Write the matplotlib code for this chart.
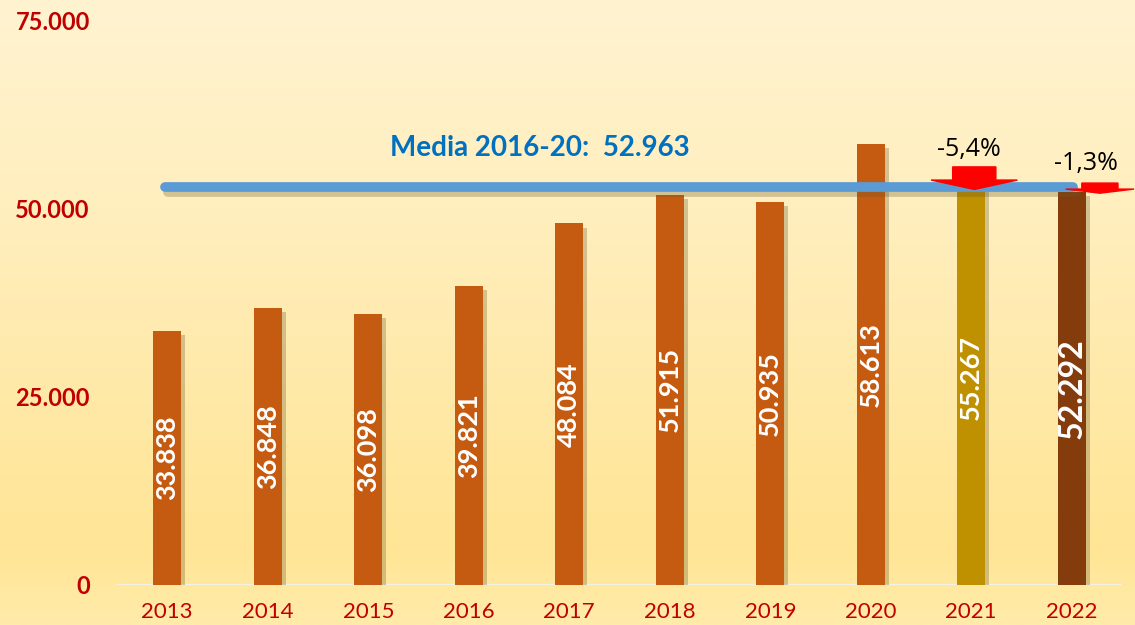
import numpy as np
import matplotlib
matplotlib.use("Agg")
import matplotlib.pyplot as plt
import matplotlib.patheffects as pe
from matplotlib.colors import LinearSegmentedColormap
from matplotlib.patches import Polygon

# data
years = ["2013", "2014", "2015", "2016", "2017", "2018", "2019", "2020", "2021", "2022"]
values = [33838, 36848, 36098, 39821, 48084, 51915, 50935, 58613, 55267, 52292]
value_labels = ["33.838", "36.848", "36.098", "39.821", "48.084", "51.915",
                "50.935", "58.613", "55.267", "52.292"]
mean_value = 52963
mean_label = "Media 2016-20:  52.963"
changes = ["-5,4%", "-1,3%"]
y_ticks = [0, 25000, 50000, 75000]
y_tick_labels = ["0", "25.000", "50.000", "75.000"]

bar_colors = ["#C55A11"] * 8 + ["#BF9000", "#843C0C"]
red = "#C00000"
FONT = ["Lato", "DejaVu Sans"]

fig = plt.figure(figsize=(11.35, 6.25), dpi=100)

# background gradient
bg = fig.add_axes([0, 0, 1, 1], zorder=-10)
cmap = LinearSegmentedColormap.from_list(
    "bg", [(0.0, "#FFF3D0"), (0.35, "#FFEEBD"), (0.88, "#FFE595"), (1.0, "#FFEBAA")])
grad = np.linspace(0, 1, 256).reshape(-1, 1)
bg.imshow(grad, aspect="auto", cmap=cmap, extent=[0, 1, 0, 1], origin="upper")
bg.set_axis_off()

ax = fig.add_axes([117 / 1135, 40 / 625, 1005 / 1135, 564 / 625])
ax.patch.set_alpha(0)
x = np.arange(len(years))

bars = ax.bar(x, values, width=0.28, color=bar_colors, zorder=3)
for b in bars:
    b.set_path_effects([pe.SimplePatchShadow(offset=(3, -3), shadow_rgbFace="#6b5a2a", alpha=0.3),
                        pe.Normal()])

for i, (v, lab) in enumerate(zip(values, value_labels)):
    ax.text(x[i], v / 2, lab, rotation=90, ha="center", va="center", color="white",
            fontsize=23 if i == len(years) - 1 else 19.5, fontweight="bold",
            family=FONT, zorder=5)

# baseline
ax.axhline(0, color="#F3F0E6", lw=1.5, zorder=2)

# mean line
ax.plot([-0.02, 9.01], [mean_value, mean_value], color="#5B9BD5", lw=7,
        solid_capstyle="round", zorder=4,
        path_effects=[pe.SimpleLineShadow(offset=(2, -4), alpha=0.3, shadow_color="#6b5a2a"),
                      pe.Normal()])
ax.text(3.71, 58100, mean_label, ha="center", va="center", color="#0070C0",
        fontsize=20, fontweight="bold", family=FONT, zorder=5)

# red down arrows
def down_arrow(xc, shaft_w, head_w, top, head_base, tip):
    pts = [(xc - shaft_w / 2, top), (xc + shaft_w / 2, top), (xc + shaft_w / 2, head_base),
           (xc + head_w / 2, head_base), (xc, tip), (xc - head_w / 2, head_base),
           (xc - shaft_w / 2, head_base)]
    ax.add_patch(Polygon(pts, closed=True, color="#FF0000", zorder=6, clip_on=False))

down_arrow(8.03, 0.43, 0.86, 55600, 53850, 52600)
down_arrow(9.28, 0.36, 0.68, 53450, 52650, 52100)
ax.text(7.98, 57850, changes[0], ha="center", va="center", fontsize=18,
        family=["Open Sans", "DejaVu Sans"], color="black", zorder=6)
ax.text(9.14, 56100, changes[1], ha="center", va="center", fontsize=18,
        family=["Open Sans", "DejaVu Sans"], color="black", zorder=6)

ax.set_xlim(-0.5, 9.5)
ax.set_ylim(0, 75000)
ax.set_xticks(x)
ax.set_xticklabels(years, color=red, fontsize=16, family=FONT)
ax.set_yticks(y_ticks)
ax.set_yticklabels(y_tick_labels, color=red, fontsize=17, fontweight="bold", family=FONT)
ax.tick_params(axis="both", length=0)
ax.tick_params(axis="x", pad=12)
ax.tick_params(axis="y", pad=19.5)
for s in ax.spines.values():
    s.set_visible(False)

fig.savefig("out.png", dpi=100)
